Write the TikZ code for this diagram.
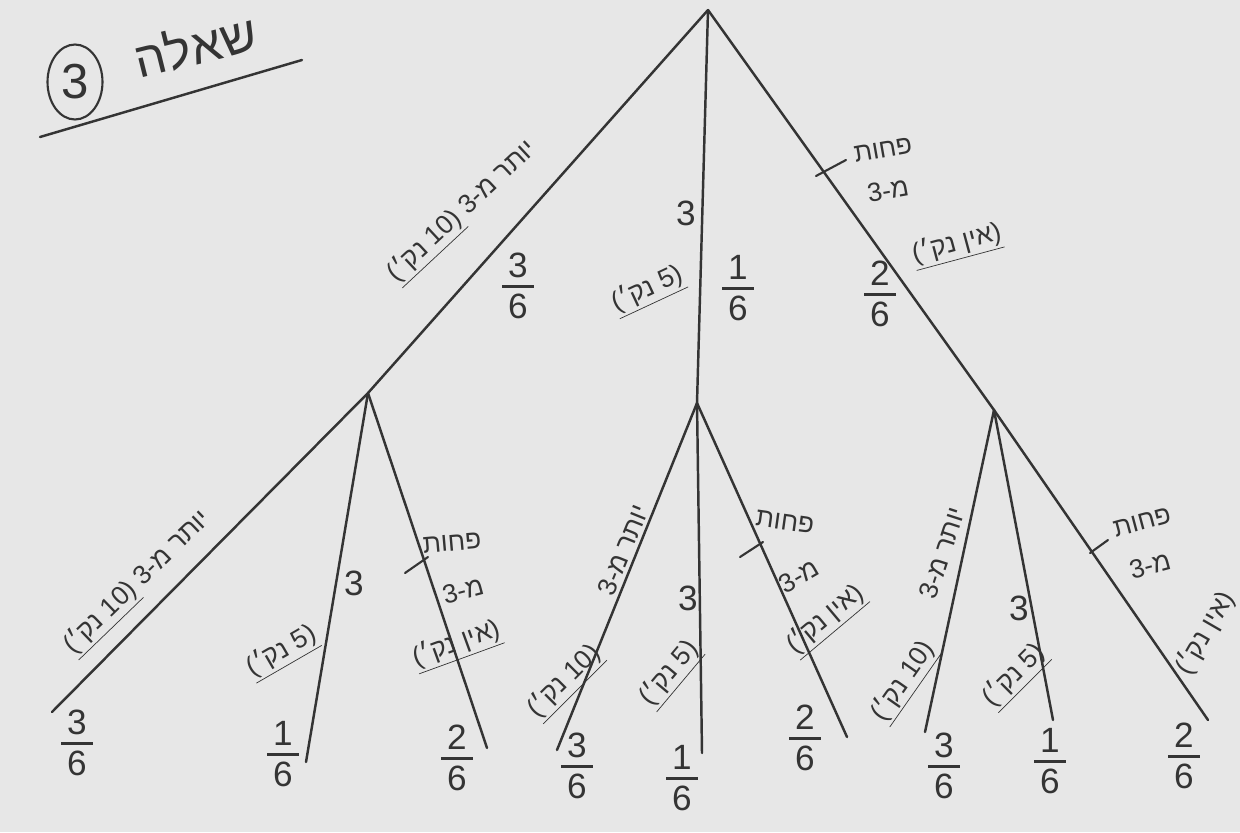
\documentclass[tikz,border=0pt]{standalone}
\usepackage{fontspec}
\setmainfont{Liberation Sans}
\usetikzlibrary{shapes.geometric}
\TeXXeTstate=1
\definecolor{paper}{RGB}{231,231,231}
\definecolor{ink}{RGB}{52,52,52}
\newcommand{\RR}[1]{\beginR #1\endR}
\setlength{\arrayrulewidth}{1.3pt}
\newcommand{\fr}[2]{\begin{tabular}{@{\,}c@{\,}}#1\\[-2pt]\hline\noalign{\vskip2pt}#2\end{tabular}}
\tikzset{
  edge/.style={draw=ink, line width=1.4pt, line cap=round},
  tick/.style={draw=ink, line width=1.2pt, line cap=round},
  frac/.style={text=ink, font=\fontsize{20}{22}\selectfont, inner sep=0pt},
  lab/.style={text=ink, font=\fontsize{15}{17}\selectfont, inner sep=1pt},
  num/.style={text=ink, font=\fontsize{20}{22}\selectfont, inner sep=1pt},
  pt/.style={coordinate},
}
\begin{document}
\begin{tikzpicture}[x=0.02cm, y=-0.02cm]
\fill[paper] (0,0) rectangle (1240,832);
\useasboundingbox (0,0) rectangle (1240,832);

% title
\node[text=ink, font=\fontsize{28}{30}\selectfont, rotate=14] (title) at (195,45) {\RR{שאלה}};
\node[draw=ink, line width=1.2pt, ellipse, minimum width=1.1cm, minimum height=1.5cm, inner sep=0pt,
      text=ink, font=\fontsize{28}{30}\selectfont] (q3) at (75,82) {3};
\draw[edge] (40,137) -- (302,60);

% tree points
\node[pt] (root) at (708,10) {};
\node[pt] (A) at (368,393) {};
\node[pt] (B) at (697,403) {};
\node[pt] (C) at (994,410) {};
\node[pt] (A1) at (52,712) {};
\node[pt] (A2) at (306,762) {};
\node[pt] (A3) at (487,748) {};
\node[pt] (B1) at (557,750) {};
\node[pt] (B2) at (702,753) {};
\node[pt] (B3) at (847,737) {};
\node[pt] (C1) at (925,732) {};
\node[pt] (C2) at (1053,720) {};
\node[pt] (C3) at (1208,720) {};

\draw[edge] (root) -- (A);
\draw[edge] (root) -- (B);
\draw[edge] (root) -- (C);
\draw[edge] (A) -- (A1);
\draw[edge] (A) -- (A2);
\draw[edge] (A) -- (A3);
\draw[edge] (B) -- (B1);
\draw[edge] (B) -- (B2);
\draw[edge] (B) -- (B3);
\draw[edge] (C) -- (C1);
\draw[edge] (C) -- (C2);
\draw[edge] (C) -- (C3);

% first level labels
\node[lab, rotate=43] (l1) at (463,212) {\underline{(\RR{נק׳} 10)} \RR{מ-3} \RR{יותר}};
\node[frac] (f1) at (518,290) {\fr{3}{6}};
\node[num] (l2a) at (686,213) {3};
\node[lab, rotate=25] (l2b) at (648,290) {\underline{(\RR{נק׳} 5)}};
\node[frac] (f2) at (738,292) {\fr{1}{6}};
\draw[tick] (816,176) -- (846,160);
\node[lab, rotate=10] (l3a) at (883,150) {\RR{פחות}};
\node[lab, rotate=10] (l3b) at (888,190) {\RR{מ-3}};
\node[lab, rotate=15] (l3c) at (957,245) {\underline{(\RR{אין נק׳})}};
\node[frac] (f3) at (880,298) {\fr{2}{6}};

% A branch
\node[lab, rotate=44] (la1) at (138,583) {\underline{(\RR{נק׳} 10)} \RR{מ-3} \RR{יותר}};
\node[frac] (fa1) at (77,747) {\fr{3}{6}};
\node[num] (la2a) at (354,583) {3};
\node[lab, rotate=30] (la2b) at (282,652) {\underline{(\RR{נק׳} 5)}};
\node[frac] (fa2) at (283,758) {\fr{1}{6}};
\draw[tick] (405,573) -- (428,557);
\node[lab, rotate=5] (la3a) at (452,543) {\RR{פחות}};
\node[lab, rotate=15] (la3b) at (463,590) {\RR{מ-3}};
\node[lab, rotate=20] (la3c) at (457,645) {\underline{(\RR{אין נק׳})}};
\node[frac] (fa3) at (457,762) {\fr{2}{6}};

% B branch
\node[lab, rotate=68] (lb1a) at (623,550) {\RR{מ-3} \RR{יותר}};
\node[lab, rotate=45] (lb1b) at (565,682) {\underline{(\RR{נק׳} 10)}};
\node[frac] (fb1) at (577,770) {\fr{3}{6}};
\node[num] (lb2a) at (688,598) {3};
\node[lab, rotate=50] (lb2b) at (670,674) {\underline{(\RR{נק׳} 5)}};
\node[frac] (fb2) at (682,782) {\fr{1}{6}};
\draw[tick] (740,557) -- (763,542);
\node[lab, rotate=-8] (lb3a) at (785,522) {\RR{פחות}};
\node[lab, rotate=30] (lb3b) at (799,576) {\RR{מ-3}};
\node[lab, rotate=40] (lb3c) at (826,620) {\underline{(\RR{אין נק׳})}};
\node[frac] (fb3) at (805,742) {\fr{2}{6}};

% C branch
\node[lab, rotate=72] (lc1a) at (942,553) {\RR{מ-3} \RR{יותר}};
\node[lab, rotate=55] (lc1b) at (904,682) {\underline{(\RR{נק׳} 10)}};
\node[frac] (fc1) at (944,770) {\fr{3}{6}};
\node[num] (lc2a) at (1019,608) {3};
\node[lab, rotate=45] (lc2b) at (1015,676) {\underline{(\RR{נק׳} 5)}};
\node[frac] (fc2) at (1050,765) {\fr{1}{6}};
\draw[tick] (1090,553) -- (1108,540);
\node[lab, rotate=15] (lc3a) at (1142,522) {\RR{פחות}};
\node[lab, rotate=15] (lc3b) at (1150,565) {\RR{מ-3}};
\node[lab, rotate=60] (lc3c) at (1205,633) {(\RR{אין נק׳})};
\node[frac] (fc3) at (1184,760) {\fr{2}{6}};
\end{tikzpicture}
\end{document}
